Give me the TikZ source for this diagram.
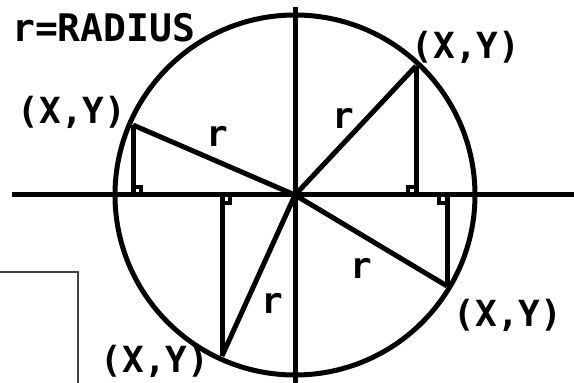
\documentclass[tikz,border=0pt]{standalone}
\usepackage{fontspec}
\newfontfamily\calcfont{DejaVu Sans Mono}
\usepackage{tikz}
\usetikzlibrary{calc, positioning}

\begin{document}
\begin{tikzpicture}[x=1pt, y=1pt,
    calcline/.style={line width=5pt},
    calctext/.style={font=\calcfont\bfseries\fontsize{36}{36}\selectfont, inner sep=0pt}]

    \useasboundingbox (0,0) rectangle (574,383);

    % =================================================================
    % 1. POINTS: centre, the four (X,Y) points, their feet on the axis
    % =================================================================
    \coordinate (O) at (295,188);

    \coordinate (P1) at (416,317);
    \coordinate (P2) at (133,258);
    \coordinate (P3) at (222,27);
    \coordinate (P4) at (447,97);

    \coordinate (F1) at (416,188);
    \coordinate (F2) at (133,188);
    \coordinate (F3) at (222,188);
    \coordinate (F4) at (447,188);

    % axis end points
    \coordinate (XL) at (12,188);
    \coordinate (XR) at (574,188);
    \coordinate (YT) at (295,376);
    \coordinate (YB) at (295,0);

    % =================================================================
    % 2. AXES AND CIRCLE
    % =================================================================
    \draw[calcline] (XL) -- (XR);
    \draw[calcline] (YT) -- (YB);
    \draw[calcline] (O) circle[radius=180];

    % =================================================================
    % 3. RADII AND VERTICAL LEGS
    % =================================================================
    \draw[calcline] (O) -- (P1);
    \draw[calcline] (O) -- (P2);
    \draw[calcline] (O) -- (P3);
    \draw[calcline] (O) -- (P4);

    \draw[calcline] (P1) -- (F1);
    \draw[calcline] (P2) -- (F2);
    \draw[calcline] (P3) -- (F3);
    \draw[calcline] (P4) -- (F4);

    % right angle marks
    \draw[line width=3.5pt] (F1) ++(-8,0) -- ++(0,8) -- ++(8,0);
    \draw[line width=3.5pt] (F2) ++(8,0) -- ++(0,8) -- ++(-8,0);
    \draw[line width=3.5pt] (F3) ++(8,0) -- ++(0,-8) -- ++(-8,0);
    \draw[line width=3.5pt] (F4) ++(-8,0) -- ++(0,-8) -- ++(8,0);

    % =================================================================
    % 4. LABELS
    % =================================================================
    \node[calctext, font=\calcfont\bfseries\fontsize{38}{38}\selectfont,
          anchor=west] (title) at (12,355) {r=RADIUS};

    \node[calctext] (lab1) at (466,336) {(X,Y)};
    \node[calctext] (lab2) at (72,271) {(X,Y)};
    \node[calctext] (lab3) at (155,22) {(X,Y)};
    \node[calctext] (lab4) at (508,68) {(X,Y)};

    \node[calctext] (r1) at (343,265) {r};
    \node[calctext] (r2) at (217,247) {r};
    \node[calctext] (r3) at (272,80) {r};
    \node[calctext] (r4) at (361,115) {r};

    % =================================================================
    % 5. FRAME IN THE LOWER LEFT CORNER
    % =================================================================
    \coordinate (BL) at (0,111);
    \coordinate (BC) at (78,111);
    \coordinate (BB) at (78,0);
    \draw[line width=1.5pt, black!75] (BL) -- (BC) -- (BB);

\end{tikzpicture}
\end{document}
